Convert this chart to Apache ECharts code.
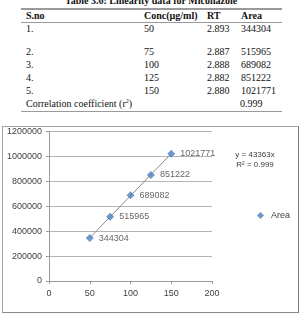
<!DOCTYPE html>
<html>
<head>
<meta charset="utf-8">
<script src="https://cdn.jsdelivr.net/npm/echarts@6/dist/echarts.min.js"></script>
<style>
  html, body { margin: 0; padding: 0; background: #fff; }
  body { width: 302px; height: 319px; position: relative; overflow: hidden; font-family: "Liberation Serif", serif; color: #111; }
  .t { position: absolute; font-size: 10px; line-height: 10px; white-space: nowrap; }
  .b { font-weight: bold; }
  .rule { position: absolute; left: 21px; width: 261px; background: #9a9a9a; }
  sup { font-size: 6px; line-height: 0; vertical-align: 4px; }
  #chart { position: absolute; left: 2px; top: 126px; width: 297px; height: 187px; box-sizing: border-box;
    border: 1px solid #a6a6a6; border-right-color: #7a7a7a; border-bottom-color: #8a8a8a; }
</style>
</head>
<body>
<div class="t b" style="left:0;width:302px;text-align:center;top:-4px;">Table 3.6: Linearity data for Miconazole</div>
<div class="rule" style="top:8px;height:2px;"></div>
<div class="t b" style="left:26px;top:11px;">S.no</div>
<div class="t b" style="left:144px;top:11px;">Conc(µg/ml)</div>
<div class="t b" style="left:207px;top:11px;">RT</div>
<div class="t b" style="left:241px;top:11px;">Area</div>
<div class="rule" style="top:22px;height:1px;"></div>
<div id="rows"></div>
<div class="t" style="left:26px;top:99px;">Correlation coefficient (r<sup>2</sup>)</div>
<div class="t" style="left:240px;top:99px;">0.999</div>
<div class="rule" style="top:111px;height:1px;"></div>
<div id="chart"></div>
<script>
const sno = ['1.', '2.', '3.', '4.', '5.'];
const conc = [50, 75, 100, 125, 150];
const rt = ['2.893', '2.887', '2.888', '2.882', '2.880'];
const area = [344304, 515965, 689082, 851222, 1021771];
const rowTops = [24, 47, 60, 73, 86];
const xTicks = [0, 50, 100, 150, 200];
const equation = ['y = 43363x', 'R² = 0.999'];

// table rows
const rows = document.getElementById('rows');
sno.forEach((s, i) => {
  const cells = [[26, s], [144, conc[i]], [207, rt[i]], [241, area[i]]];
  cells.forEach(([x, txt]) => {
    const d = document.createElement('div');
    d.className = 't';
    d.style.left = x + 'px';
    d.style.top = rowTops[i] + 'px';
    d.textContent = txt;
    rows.appendChild(d);
  });
});

// linear trendline (least squares) from the data
const n = conc.length;
const mx = conc.reduce((a, b) => a + b, 0) / n;
const my = area.reduce((a, b) => a + b, 0) / n;
let sxy = 0, sxx = 0;
conc.forEach((x, i) => { sxy += (x - mx) * (area[i] - my); sxx += (x - mx) * (x - mx); });
const slope = sxy / sxx;
const icpt = my - slope * mx;
const xFirst = conc[0], xLast = conc[n - 1];
const trend = [[xFirst, icpt + slope * xFirst], [xLast, icpt + slope * xLast]];

const myChart = echarts.init(document.getElementById('chart'));
const axisFont = { fontFamily: 'Liberation Sans', fontSize: 9, color: '#404040' };
let option = {
  animation: false,
  grid: { left: 46, right: 86, top: 2, bottom: 31 },
  legend: {
    data: ['Area'],
    left: 249, top: 79,
    icon: 'diamond', itemWidth: 7, itemHeight: 7, itemGap: 4,
    textStyle: { fontFamily: 'Liberation Sans', fontSize: 9, color: '#404040', padding: [0, 0, 0, 2] }
  },
  xAxis: {
    type: 'value', min: xTicks[0], max: xTicks[xTicks.length - 1], interval: 50,
    axisLine: { lineStyle: { color: '#9a9a9a' } },
    axisTick: { show: true, length: 3, lineStyle: { color: '#9a9a9a' } },
    axisLabel: { ...axisFont, margin: 8 },
    splitLine: { show: false }
  },
  yAxis: {
    type: 'value', min: 0, max: 1200000, interval: 200000,
    axisLine: { show: true, lineStyle: { color: '#9a9a9a' } },
    axisTick: { show: true, length: 3, lineStyle: { color: '#9a9a9a' } },
    axisLabel: { ...axisFont, margin: 7, formatter: v => String(v) },
    splitLine: { lineStyle: { color: '#b4b4b4' } }
  },
  series: [
    {
      name: 'trend', type: 'line', data: trend, symbol: 'none', silent: true,
      lineStyle: { color: '#8a8a8a', width: 1 }, z: 1
    },
    {
      name: 'Area', type: 'scatter', symbol: 'diamond', symbolSize: 8,
      data: conc.map((x, i) => [x, area[i]]),
      itemStyle: { color: '#4a7ebb' },
      label: {
        show: true, position: 'right', distance: 5,
        formatter: p => p.value[1],
        fontFamily: 'Liberation Sans', fontSize: 9, color: '#404040'
      },
      z: 3
    }
  ],
  graphic: equation.map((txt, i) => ({
    type: 'text', x: 252, y: 28 + i * 10,
    style: {
      text: txt, fontFamily: 'Liberation Sans', fontSize: 8,
      fill: '#404040', textAlign: 'center', textVerticalAlign: 'middle'
    }
  }))
};
option && myChart.setOption(option);
</script>
</body>
</html>
